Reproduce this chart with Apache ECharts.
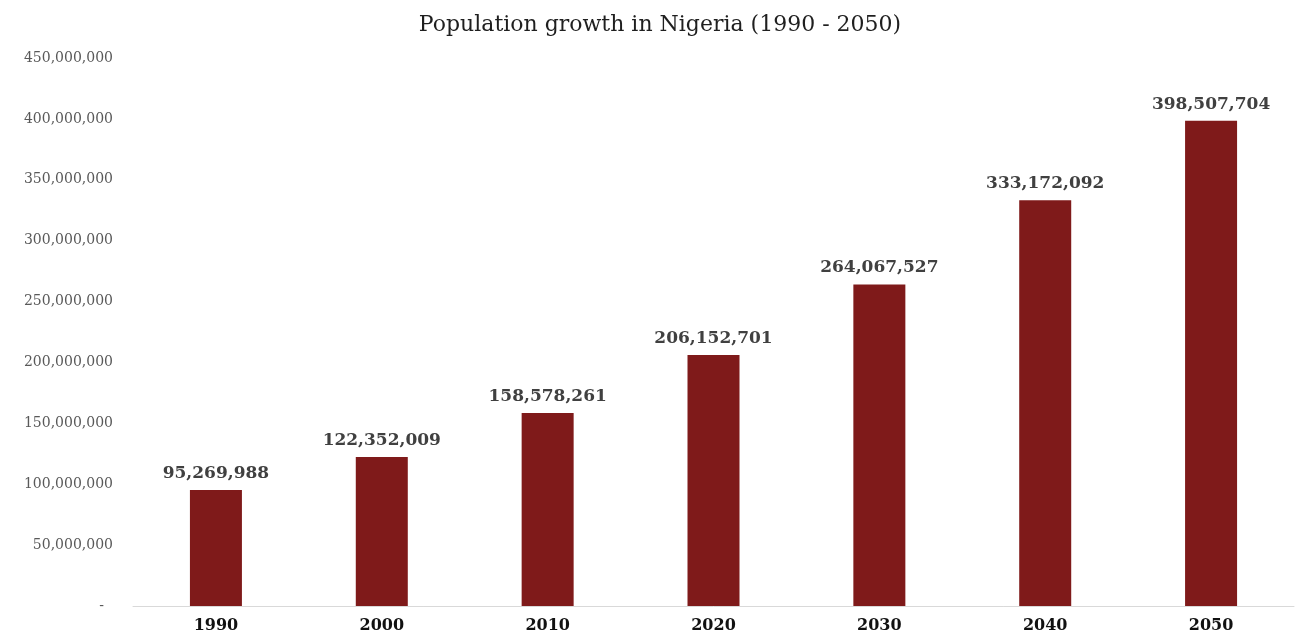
<!DOCTYPE html>
<html>
<head>
<meta charset="utf-8">
<script src="https://cdn.jsdelivr.net/npm/echarts@6/dist/echarts.min.js"></script>
<style>
  html, body { margin: 0; padding: 0; background: #fff; }
  #chart { width: 1299px; height: 634px; }
</style>
</head>
<body>
<div id="chart"></div>
<script>
const years = ['1990', '2000', '2010', '2020', '2030', '2040', '2050'];
const population = [95269988, 122352009, 158578261, 206152701, 264067527, 333172092, 398507704];
const yTicks = { min: 0, max: 450000000, interval: 50000000 };

const serif = "'DejaVu Serif', 'Liberation Serif', serif";
const fmt = v => v.toLocaleString('en-US');

const chart = echarts.init(document.getElementById('chart'));
chart.setOption({
  animation: false,
  title: {
    text: 'Population growth in Nigeria (1990 - 2050)',
    left: 655, top: 9, textAlign: 'center',
    textStyle: { fontFamily: serif, fontSize: 22, fontWeight: 'normal', color: '#1f1f1f' }
  },
  grid: { left: 133, right: 5, top: 58, bottom: 28 },
  xAxis: {
    type: 'category',
    data: years,
    axisLine: { lineStyle: { color: '#d9d9d9', width: 1 } },
    axisTick: { show: false },
    axisLabel: { fontFamily: serif, fontSize: 16, fontWeight: 'bold', color: '#111', margin: 12 }
  },
  yAxis: {
    type: 'value',
    min: yTicks.min, max: yTicks.max, interval: yTicks.interval,
    splitLine: { show: false },
    axisLine: { show: false },
    axisTick: { show: false },
    axisLabel: {
      fontFamily: serif, fontSize: 14, color: '#595959', margin: 20,
      formatter: v => v === 0 ? '-  ' : fmt(v)
    }
  },
  series: [{
    type: 'bar',
    data: population,
    barWidth: 52,
    itemStyle: { color: '#7f1a1a' },
    label: {
      show: true, position: 'top', distance: 8,
      fontFamily: serif, fontSize: 17, fontWeight: 'bold', color: '#404040',
      formatter: p => fmt(p.value)
    }
  }]
});
</script>
</body>
</html>
